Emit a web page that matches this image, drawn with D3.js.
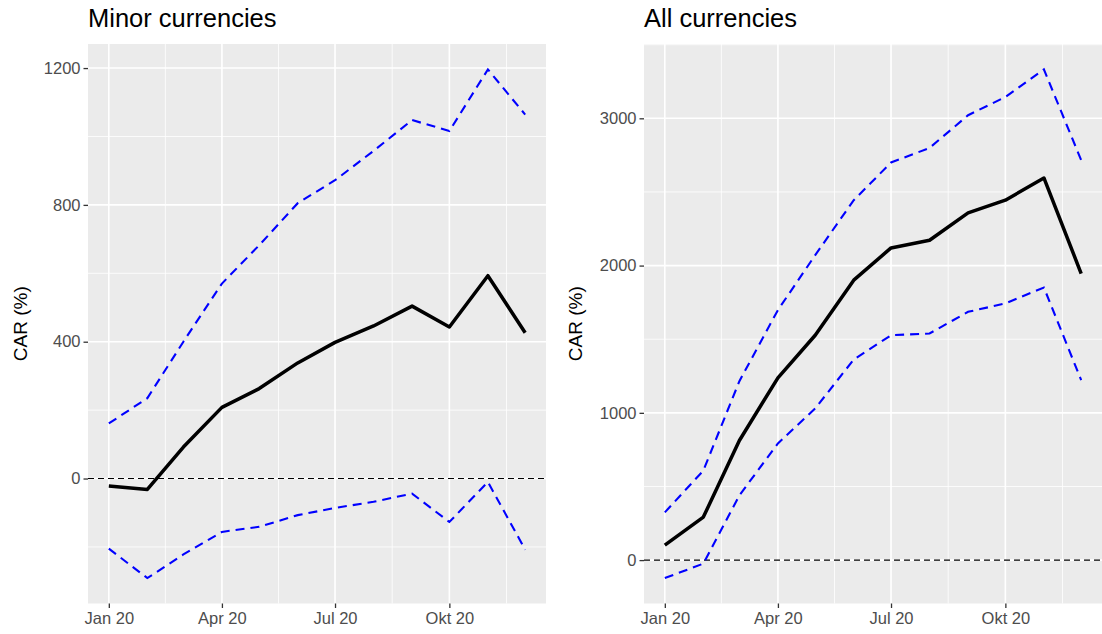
<!DOCTYPE html>
<html>
<head>
<meta charset="utf-8">
<title>CAR</title>
<style>
  body { margin: 0; background: #fff; }
  svg text { font-family: "Liberation Sans", Arial, Helvetica, sans-serif; }
  .panel-bg { fill: #ebebeb; }
  .grid-major line { stroke: #fff; stroke-width: 1.6; }
  .grid-minor line { stroke: #fff; stroke-width: 0.8; }
  .axis path { display: none; }
  .axis line { stroke: #333; stroke-width: 1.3; }
  .axis text { fill: #4d4d4d; font-size: 16.5px; }
  .mean { fill: none; stroke: #000; stroke-width: 3.5; stroke-linejoin: round; }
  .band { fill: none; stroke: #0000ff; stroke-width: 2.1; stroke-dasharray: 9,6; }
  .zero { stroke: #000; stroke-width: 1.1; stroke-dasharray: 6,4; }
</style>
</head>
<body>
<script src="https://d3js.org/d3.v7.min.js"></script>
<script>
// monthly observations, Jan 2020 .. Dec 2020
var months = ["2020-01-01", "2020-02-01", "2020-03-01", "2020-04-01", "2020-05-01", "2020-06-01",
              "2020-07-01", "2020-08-01", "2020-09-01", "2020-10-01", "2020-11-01", "2020-12-01"];

// Minor currencies
var minorCar   = [-22, -32, 92, 208, 263, 338, 398, 446, 504, 443, 593, 426];
var minorUpper = [161, 235, 400, 570, 682, 805, 872, 958, 1048, 1016, 1196, 1064];
var minorLower = [-205, -291, -222, -156, -141, -107, -86, -68, -44, -127, -10, -208];

// All currencies
var allCar   = [102, 292, 812, 1238, 1527, 1901, 2120, 2172, 2358, 2444, 2595, 1946];
var allUpper = [324, 608, 1215, 1698, 2071, 2444, 2700, 2799, 3021, 3145, 3332, 2716];
var allLower = [-122, -24, 440, 792, 1030, 1362, 1527, 1539, 1686, 1743, 1851, 1222];

// axis breaks
var xBreaks = ["2020-01-01", "2020-04-01", "2020-07-01", "2020-10-01"];
var xLabels = ["Jan 20", "Apr 20", "Jul 20", "Okt 20"];
var minorYBreaks = [0, 400, 800, 1200];
var allYBreaks = [0, 1000, 2000, 3000];

var W = 1102, H = 634;
var parse = d3.utcParse("%Y-%m-%d");
var dates = months.map(parse);
var xb = xBreaks.map(parse);
// minor x grid at midpoints between major breaks (one extra break after Okt)
var xbExt = xb.concat([parse("2021-01-01")]);
var xMinor = d3.range(xbExt.length - 1).map(function (i) {
  return new Date((xbExt[i].getTime() + xbExt[i + 1].getTime()) / 2);
});

var svg = d3.select("body").append("svg")
  .attr("width", W)
  .attr("height", H);

function expand(lo, hi) {
  var pad = (hi - lo) * 0.05;
  return [lo - pad, hi + pad];
}

function drawPanel(o) {
  var t0 = dates[0].getTime(), t1 = dates[dates.length - 1].getTime();
  var xd = expand(t0, t1);
  var x = d3.scaleUtc()
    .domain([new Date(xd[0]), new Date(xd[1])])
    .range([o.left, o.right]);

  var all = o.car.concat(o.upper, o.lower, [0]);
  var y = d3.scaleLinear()
    .domain(expand(d3.min(all), d3.max(all)))
    .range([o.bottom, o.top]);

  var yStep = o.yBreaks[1] - o.yBreaks[0];
  var yMinor = o.yBreaks.map(function (b) { return b - yStep / 2; })
    .concat([o.yBreaks[o.yBreaks.length - 1] + yStep / 2])
    .filter(function (v) { return v > y.domain()[0] && v < y.domain()[1]; });

  var g = svg.append("g");

  g.append("rect")
    .attr("class", "panel-bg")
    .attr("x", o.left).attr("y", o.top)
    .attr("width", o.right - o.left).attr("height", o.bottom - o.top);

  // grid
  var gm = g.append("g").attr("class", "grid-minor");
  gm.selectAll("line.h").data(yMinor).enter().append("line")
    .attr("x1", o.left).attr("x2", o.right)
    .attr("y1", function (d) { return y(d); }).attr("y2", function (d) { return y(d); });
  gm.selectAll("line.v").data(xMinor).enter().append("line")
    .attr("y1", o.top).attr("y2", o.bottom)
    .attr("x1", function (d) { return x(d); }).attr("x2", function (d) { return x(d); });

  var gM = g.append("g").attr("class", "grid-major");
  gM.selectAll("line.h").data(o.yBreaks).enter().append("line")
    .attr("x1", o.left).attr("x2", o.right)
    .attr("y1", function (d) { return y(d); }).attr("y2", function (d) { return y(d); });
  gM.selectAll("line.v").data(xb).enter().append("line")
    .attr("y1", o.top).attr("y2", o.bottom)
    .attr("x1", function (d) { return x(d); }).attr("x2", function (d) { return x(d); });

  // zero reference
  g.append("line")
    .attr("class", "zero")
    .attr("x1", o.left).attr("x2", o.right)
    .attr("y1", y(0)).attr("y2", y(0));

  var line = d3.line()
    .x(function (d, i) { return x(dates[i]); })
    .y(function (d) { return y(d); });

  g.append("path").attr("class", "band").attr("d", line(o.upper));
  g.append("path").attr("class", "band").attr("d", line(o.lower));
  g.append("path").attr("class", "mean").attr("d", line(o.car));

  // axes
  g.append("g")
    .attr("class", "axis")
    .attr("transform", "translate(0," + o.bottom + ")")
    .call(d3.axisBottom(x)
      .tickValues(xb)
      .tickSize(4.5)
      .tickPadding(4)
      .tickFormat(function (d, i) { return xLabels[i]; }));

  g.append("g")
    .attr("class", "axis")
    .attr("transform", "translate(" + o.left + ",0)")
    .call(d3.axisLeft(y)
      .tickValues(o.yBreaks)
      .tickSize(4.5)
      .tickPadding(3)
      .tickFormat(d3.format("d")));

  // titles
  g.append("text")
    .attr("x", o.left)
    .attr("y", 27)
    .attr("fill", "#000")
    .style("font-size", "25.5px")
    .text(o.title);

  g.append("text")
    .attr("transform", "translate(" + o.ylabX + "," + ((o.top + o.bottom) / 2) + ") rotate(-90)")
    .attr("text-anchor", "middle")
    .attr("fill", "#000")
    .style("font-size", "19px")
    .text("CAR (%)");
}

drawPanel({
  title: "Minor currencies",
  car: minorCar, upper: minorUpper, lower: minorLower,
  yBreaks: minorYBreaks,
  left: 88, right: 546, top: 44, bottom: 603.5, ylabX: 26.5
});

drawPanel({
  title: "All currencies",
  car: allCar, upper: allUpper, lower: allLower,
  yBreaks: allYBreaks,
  left: 644, right: 1102, top: 44, bottom: 603.5, ylabX: 582
});
</script>
</body>
</html>
